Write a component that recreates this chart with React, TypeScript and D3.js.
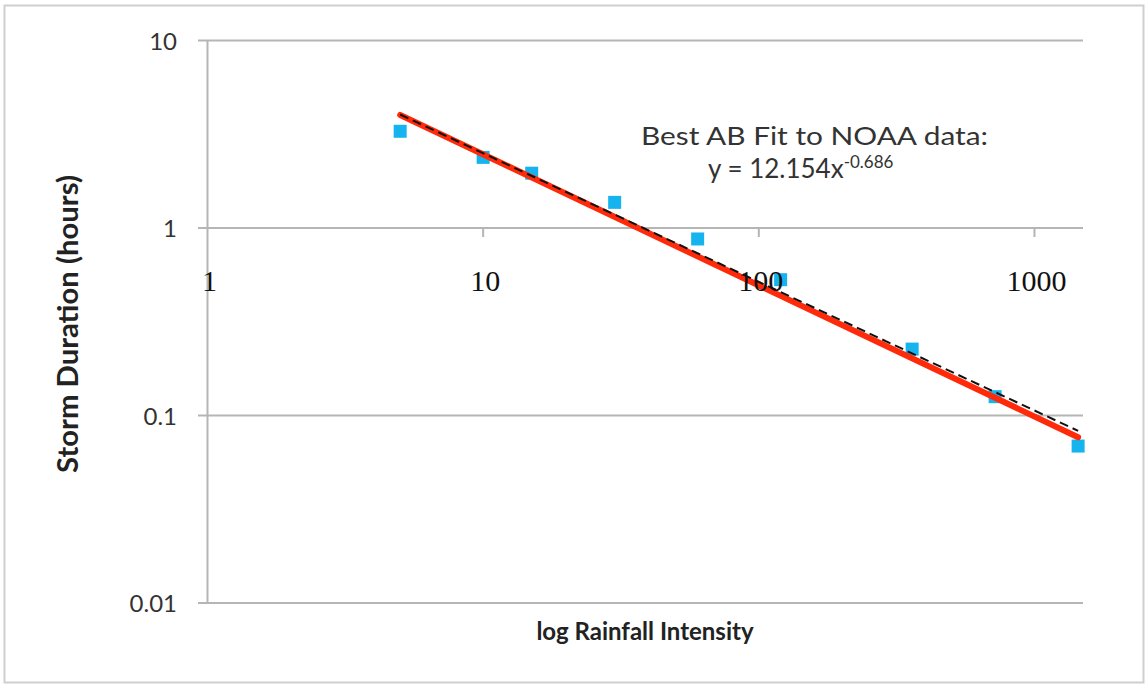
import React from 'react'
import * as d3 from 'd3'

// NOAA storm data (rainfall intensity vs storm duration)
const intensity = [5, 10, 15, 30, 60, 120, 360, 720, 1440]
const duration = [3.28, 2.38, 1.96, 1.37, 0.874, 0.53, 0.226, 0.126, 0.0687]

const xTicks = [1, 10, 100, 1000]
const yTicks = [0.01, 0.1, 1, 10]

// power-law fits  y = a * x^b
const trendFit = [12.35, -0.699]
const abFit = [12.154, -0.686]
const fitRange = [5, 1440]

const W = 1146
const H = 685
const sans = 'Lato, "Open Sans", sans-serif'
const serif = '"Liberation Serif", "DejaVu Serif", serif'

export default function App() {
  const x = d3.scaleLog().domain([1, 1500]).range([207.5, 1083])
  const y = d3.scaleLog().domain([0.01, 10]).range([603, 40.5])

  const fitPath = (p: number[]) =>
    d3.line<number>()
      .x(d => x(d))
      .y(d => y(p[0] * Math.pow(d, p[1])))(fitRange) || ''

  const grid = '#b5b5b5'

  return (
    <svg width={W} height={H} style={{ position: 'absolute', left: 0, top: 0, background: '#fff' }}>
      <rect x={4.5} y={5.5} width={1139} height={677} fill="#fff" stroke="#cfcfcf" strokeWidth={2} />

      {yTicks.map(t => (
        <g key={'y' + t}>
          <line x1={198} x2={1083} y1={y(t)} y2={y(t)} stroke={grid} strokeWidth={2} />
          <text x={177} y={y(t) + 3} textAnchor="end" dominantBaseline="middle"
            fontFamily={sans} fontSize={24} fill="#333">{t}</text>
        </g>
      ))}
      <line x1={x(1)} x2={x(1)} y1={y(10)} y2={y(0.01)} stroke={grid} strokeWidth={2} />
      {xTicks.slice(1).map(t => (
        <line key={'xt' + t} x1={x(t)} x2={x(t)} y1={y(1)} y2={y(1) + 9} stroke={grid} strokeWidth={2} />
      ))}

      {intensity.map((v, i) => (
        <rect key={'p' + i} x={x(v) - 6.5} y={y(duration[i]) - 6.5} width={13} height={13} fill="#15b4ee" />
      ))}

      <path d={fitPath(trendFit)} stroke="#ff2a0a" strokeWidth={6} fill="none" strokeLinecap="round" />
      <path d={fitPath(abFit)} stroke="#111" strokeWidth={2} fill="none" strokeDasharray="9 5" />

      {xTicks.map(t => (
        <text key={'xl' + t} x={x(t) + 2} y={291} textAnchor="middle"
          fontFamily={serif} fontSize={30} fill="#111">{t}</text>
      ))}

      <text x={641} y={145} textLength={347} lengthAdjust="spacingAndGlyphs"
        fontFamily={sans} fontSize={25} fill="#333">
        Best AB Fit to NOAA data:
      </text>
      <text x={708} y={178} fontFamily={sans} fontSize={26} fill="#333">
        y = 12.154x<tspan fontSize={17} dy={-10}>-0.686</tspan>
      </text>

      <text x={645} y={640} textAnchor="middle" fontFamily={sans} fontWeight="bold" fontSize={24} fill="#222">
        log Rainfall Intensity
      </text>
      <text transform="translate(78,324) rotate(-90)" textAnchor="middle" fontFamily={sans}
        fontWeight="bold" fontSize={28} textLength={298} lengthAdjust="spacingAndGlyphs" fill="#222">
        Storm Duration (hours)
      </text>
    </svg>
  )
}
